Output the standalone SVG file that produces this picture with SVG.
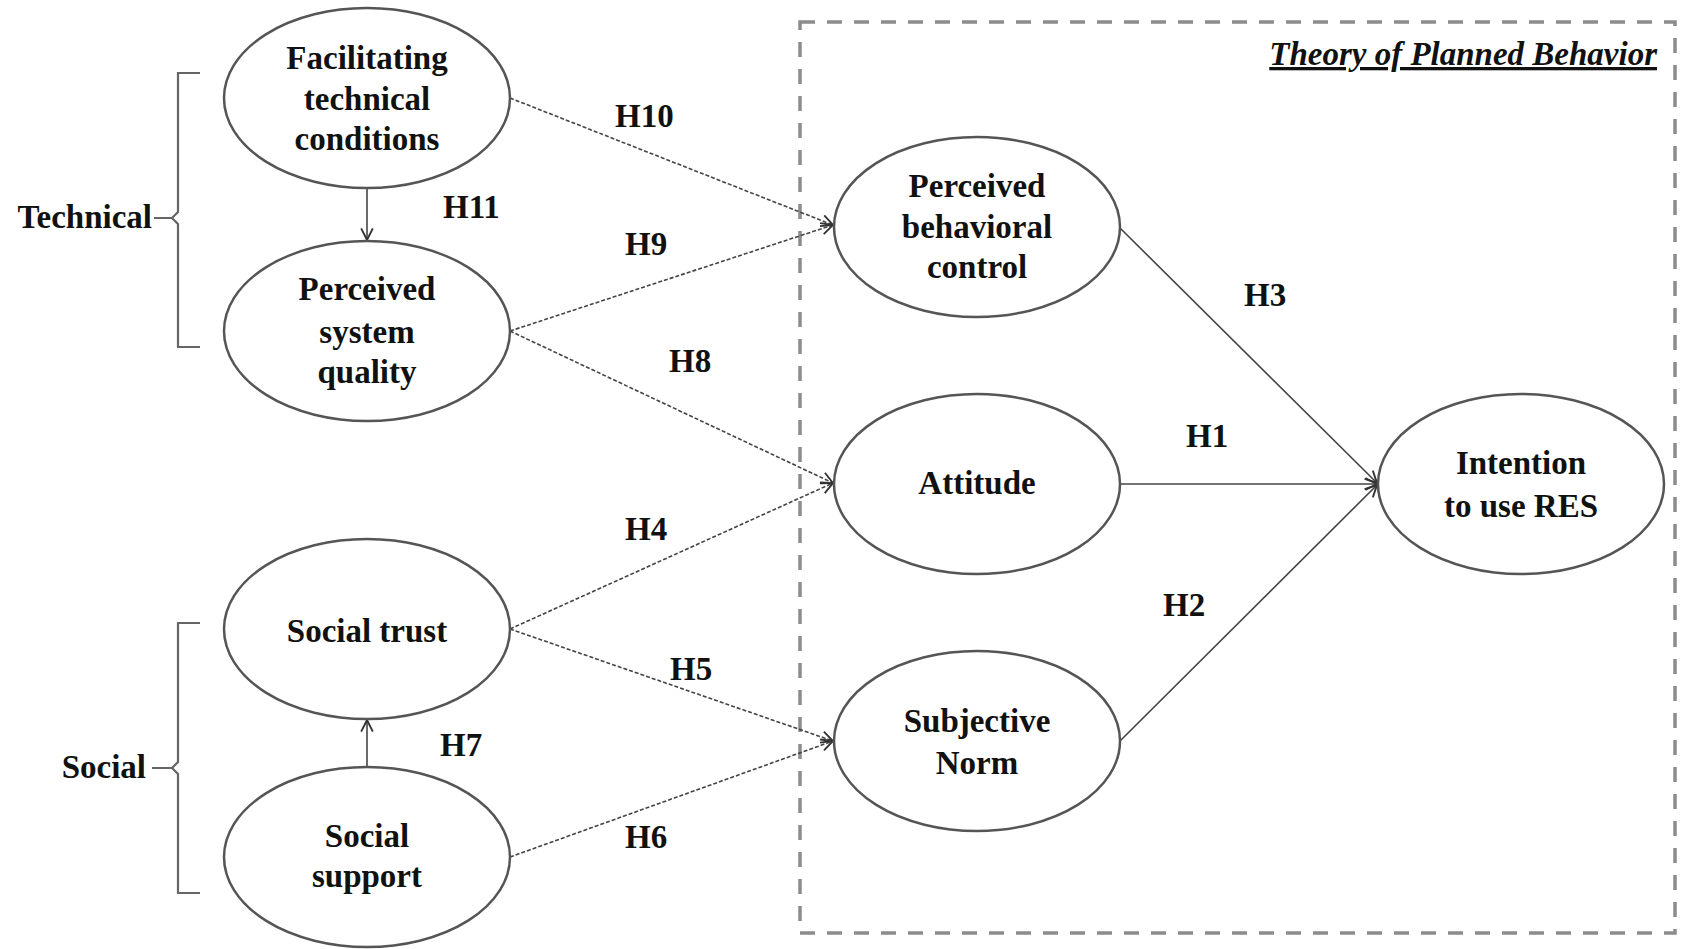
<svg xmlns="http://www.w3.org/2000/svg" width="1683" height="949" viewBox="0 0 1683 949">
  <style>
    .node { fill: #ffffff; stroke: #555555; stroke-width: 2.5; }
    .lbl { font-family: "Liberation Serif", "Times New Roman", serif; font-weight: bold; font-size: 33px; fill: #111111; }
    .mid { text-anchor: middle; }
    .dash { fill: none; stroke: #444444; stroke-width: 1.6; stroke-dasharray: 4 2; marker-end: url(#arrow); }
    .solid { fill: none; stroke: #444444; stroke-width: 1.6; marker-end: url(#arrow); }
    .bracket { fill: none; stroke: #666666; stroke-width: 2.2; }
    .frame { fill: none; stroke: #8c8c8c; stroke-width: 3.5; stroke-dasharray: 15 12; }
  </style>
  <defs>
    <marker id="arrow" markerUnits="userSpaceOnUse" markerWidth="14" markerHeight="14" viewBox="0 0 12 12" refX="11" refY="6" orient="auto">
      <path d="M1,1 L11,6 L1,11" fill="none" stroke="#333333" stroke-width="1.6"/>
    </marker>
  </defs>

  <rect width="1683" height="949" fill="#ffffff"/>

  <!-- TPB frame -->
  <g id="tpb-frame">
    <rect class="frame" x="800" y="22" width="875" height="911"/>
    <text class="lbl" x="1657" y="65" text-anchor="end" font-style="italic" text-decoration="underline">Theory of Planned Behavior</text>
  </g>

  <!-- group brackets -->
  <g id="technical-group">
    <path class="bracket" d="M200,73 H178 V212 L172,218 L178,224 V347 H200 M154,218 H172"/>
    <text class="lbl" x="152" y="228" text-anchor="end">Technical</text>
  </g>
  <g id="social-group">
    <path class="bracket" d="M200,623 H178 V762 L172,768 L178,774 V893 H200 M152,768 H172"/>
    <text class="lbl" x="146" y="778" text-anchor="end">Social</text>
  </g>

  <!-- connectors -->
  <g id="connectors">
    <line class="dash" x1="510" y1="98" x2="833" y2="225"/>
    <line class="dash" x1="510" y1="331" x2="833" y2="225"/>
    <line class="dash" x1="510" y1="331" x2="833" y2="483"/>
    <line class="dash" x1="510" y1="629" x2="833" y2="483"/>
    <line class="dash" x1="510" y1="629" x2="833" y2="741"/>
    <line class="dash" x1="510" y1="857" x2="833" y2="741"/>
    <line class="solid" x1="367" y1="188" x2="367" y2="240"/>
    <line class="solid" x1="367" y1="767" x2="367" y2="720"/>
    <line class="solid" x1="1120" y1="228" x2="1377" y2="483"/>
    <line class="solid" x1="1120" y1="484" x2="1377" y2="484"/>
    <line class="solid" x1="1120" y1="741" x2="1377" y2="485"/>
    <text class="lbl" x="615" y="127">H10</text>
    <text class="lbl" x="443" y="218">H11</text>
    <text class="lbl" x="625" y="255">H9</text>
    <text class="lbl" x="669" y="372">H8</text>
    <text class="lbl" x="625" y="540">H4</text>
    <text class="lbl" x="670" y="680">H5</text>
    <text class="lbl" x="440" y="756">H7</text>
    <text class="lbl" x="625" y="848">H6</text>
    <text class="lbl" x="1244" y="306">H3</text>
    <text class="lbl" x="1186" y="447">H1</text>
    <text class="lbl" x="1163" y="616">H2</text>
  </g>

  <!-- nodes -->
  <g id="facilitating-conditions">
    <ellipse class="node" cx="367" cy="98" rx="143" ry="90"/>
    <text class="lbl mid" x="367" y="69">Facilitating</text>
    <text class="lbl mid" x="367" y="110">technical</text>
    <text class="lbl mid" x="367" y="150">conditions</text>
  </g>
  <g id="system-quality">
    <ellipse class="node" cx="367" cy="331" rx="143" ry="90"/>
    <text class="lbl mid" x="367" y="300">Perceived</text>
    <text class="lbl mid" x="367" y="343">system</text>
    <text class="lbl mid" x="367" y="383">quality</text>
  </g>
  <g id="social-trust">
    <ellipse class="node" cx="367" cy="629" rx="143" ry="90"/>
    <text class="lbl mid" x="367" y="642">Social trust</text>
  </g>
  <g id="social-support">
    <ellipse class="node" cx="367" cy="857" rx="143" ry="90"/>
    <text class="lbl mid" x="367" y="847">Social</text>
    <text class="lbl mid" x="367" y="887">support</text>
  </g>
  <g id="behavioral-control">
    <ellipse class="node" cx="977" cy="227" rx="143" ry="90"/>
    <text class="lbl mid" x="977" y="197">Perceived</text>
    <text class="lbl mid" x="977" y="238">behavioral</text>
    <text class="lbl mid" x="977" y="278">control</text>
  </g>
  <g id="attitude">
    <ellipse class="node" cx="977" cy="484" rx="143" ry="90"/>
    <text class="lbl mid" x="977" y="494">Attitude</text>
  </g>
  <g id="subjective-norm">
    <ellipse class="node" cx="977" cy="741" rx="143" ry="90"/>
    <text class="lbl mid" x="977" y="732">Subjective</text>
    <text class="lbl mid" x="977" y="774">Norm</text>
  </g>
  <g id="intention">
    <ellipse class="node" cx="1521" cy="484" rx="143" ry="90"/>
    <text class="lbl mid" x="1521" y="474">Intention</text>
    <text class="lbl mid" x="1521" y="517">to use RES</text>
  </g>
</svg>
